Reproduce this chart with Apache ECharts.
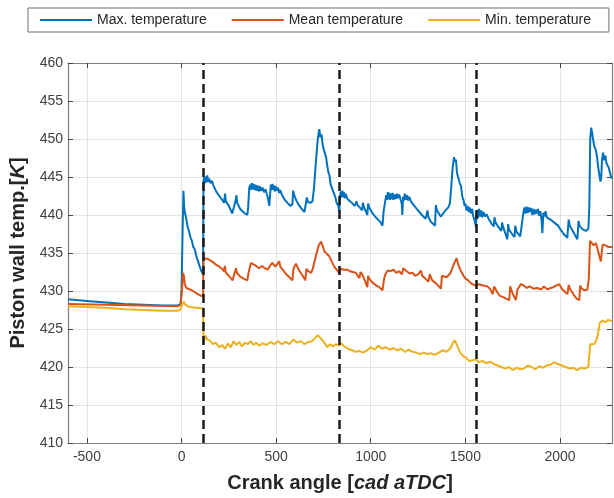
<!DOCTYPE html>
<html>
<head>
<meta charset="utf-8">
<script src="https://cdn.jsdelivr.net/npm/echarts@6/dist/echarts.min.js"></script>
<style>html,body{margin:0;padding:0;background:#fff}#c{width:614px;height:498px}</style>
</head>
<body>
<div id="c"></div>
<script>
// ---------- data ----------
const seriesNames = ['Max. temperature', 'Mean temperature', 'Min. temperature'];
const xTicks = [-500, 0, 500, 1000, 1500, 2000];
const cycleLines = [116, 836, 1556];

const maxX = [-600,-500,-400,-300,-200,-100,-20,-5,0,5,10,14,18,25,32,40,48,55,62,70,78,86,95,105,114,
116,120,124,128,132,136,140,146,152,160,170,185,200,215,225,230,234,250,268,272,285,290,294,310,330,348,
352,358,364,368,372,376,380,384,390,396,402,408,414,420,428,436,444,450,456,464,468,472,476,480,484,488,
492,498,504,510,516,522,528,533,545,560,575,586,590,596,605,620,635,650,656,662,668,680,692,700,710,720,
728,734,740,746,752,758,764,770,776,782,788,794,800,806,812,820,828,834,838,842,846,850,854,858,862,868,
875,885,900,915,921,925,930,945,955,958,965,982,986,992,1010,1030,1050,1062,1068,1077,1082,1086,1090,1094,
1098,1102,1106,1110,1115,1120,1126,1132,1138,1144,1150,1158,1164,1167,1171,1175,1180,1186,1192,1198,1204,
1212,1230,1250,1270,1290,1300,1304,1318,1340,1344,1350,1370,1380,1395,1410,1418,1425,1432,1440,1446,1450,
1456,1464,1470,1477,1484,1490,1496,1500,1506,1512,1518,1524,1530,1536,1542,1548,1556,1560,1566,1572,1578,
1584,1590,1596,1604,1612,1625,1640,1650,1654,1660,1675,1690,1694,1700,1715,1722,1726,1732,1750,1760,1764,
1770,1790,1800,1806,1812,1818,1824,1830,1836,1842,1848,1854,1860,1866,1872,1878,1884,1890,1896,1902,1907,
1912,1918,1924,1930,1940,1950,1960,1970,1979,1990,2005,2020,2039,2046,2052,2070,2085,2092,2098,2105,2120,
2137,2150,2155,2160,2165,2170,2176,2182,2190,2196,2202,2208,2214,2218,2222,2228,2234,2240,2246,2252,2258,
2264,2270,2275];
const maxY = [428.9,428.7,428.5,428.3,428.2,428.1,428.1,428.3,430,437,443.2,441,440.3,439.5,438.5,437.8,437,436.6,435.8,435.5,434.6,434,433.3,432.6,432.2,
444.5,445.0,444.2,445.1,444.3,445.2,444.4,444.8,444.2,444.5,443.8,443.0,442.5,442.0,441.6,442.8,441.8,441.2,440.2,440.6,441.8,442.6,441.6,440.8,440.3,440.0,
441,443.6,444.0,443.3,444.2,443.4,444.1,443.3,444.0,443.2,443.9,443.1,443.8,443.2,443.6,443.0,443.4,442.8,442.3,441.2,442.6,444.0,443.3,444.1,443.3,443.9,
443.1,443.8,443.2,443.6,442.9,443.3,442.8,442.6,442.0,441.6,441.2,441.4,443.2,442.6,442.0,441.3,440.8,440.4,440.6,442.3,441.7,441.6,441.8,443.5,447,450,
451.3,450.2,450.6,449.2,448.6,448.8,447.6,446.5,445.6,445.2,444.0,443.6,443.2,442.8,442.4,441.6,441.2,440.5,442.6,443.1,442.3,443.2,442.4,443.0,442.2,442.8,
442.2,441.9,441.6,441.2,441.0,441.8,441.3,440.9,440.6,441.6,441.0,440.0,441.5,441.0,440.2,439.6,439.1,438.6,440.5,441.9,442.6,442.0,443.0,442.1,
442.9,442.0,442.8,442.1,442.9,442.0,442.7,442.1,442.8,442.2,442.7,442.0,441.5,440.0,442.4,441.9,442.8,442.0,442.6,441.9,442.4,
441.8,441.2,440.6,440.0,439.5,440.6,439.8,439.1,438.6,441.3,440.6,439.8,440.0,440.6,441.0,441.5,443.5,446,447.6,447.0,447.3,
445.5,444.8,444.2,443.8,442.4,442.0,441.2,441.5,440.6,441.2,440.4,441.0,440.2,440.8,439.8,439.4,438.4,440.5,439.6,440.8,439.8,
440.6,439.7,440.4,439.8,440.1,439.4,438.8,438.5,439.7,439.0,438.4,437.9,439.0,438.4,437.3,436.8,438.8,438.0,437.4,437.1,438.6,
437.8,437.2,437.0,440.2,441.0,440.2,441.1,440.3,441.0,440.4,440.9,440.0,440.8,440.1,440.7,440.2,440.8,439.9,440.5,439.6,437.6,
440.3,439.8,440.5,439.7,439.8,439.4,439.6,439.0,439.2,438.6,438.0,437.5,437.0,439.4,438.6,437.8,437.1,436.8,439.2,438.5,438.1,
437.9,438.2,441,450,451.5,450.8,449.8,449.0,448.5,447.6,446.3,445.3,444.4,444.8,447.2,448.2,447.2,447.8,446.8,447.0,446.2,
445.6,445.0,444.8];

const meanX = [-600,-400,-200,-20,-5,2,8,12,18,25,35,45,60,80,100,114,116,125,140,160,180,200,215,225,229,234,250,270,276,288,292,310,330,348,354,
367,380,395,410,425,440,455,464,470,480,495,505,516,524,535,550,570,586,592,605,615,630,645,654,660,670,685,692,700,712,725,737,745,755,765,780,
795,810,820,834,840,850,860,875,890,905,921,930,940,946,955,970,982,986,992,1010,1030,1045,1062,1070,1077,1090,1105,1120,1135,1150,1165,1172,
1190,1205,1220,1235,1250,1265,1272,1290,1305,1312,1325,1345,1360,1371,1376,1389,1400,1420,1440,1454,1462,1475,1490,1503,1515,1530,1545,1556,
1570,1585,1600,1617,1630,1645,1652,1665,1680,1700,1715,1732,1737,1745,1755,1767,1775,1794,1810,1825,1840,1860,1880,1900,1915,1935,1950,1965,
1980,1996,2010,2025,2040,2046,2055,2070,2088,2102,2107,2115,2128,2145,2152,2159,2168,2178,2190,2200,2208,2216,2225,2240,2255,2275];
const meanY = [428.3,428.2,428.1,428.0,428.2,430,432.4,432.0,430.8,430.4,430.6,430.2,430.0,429.7,429.4,429.3,434.3,434.4,434.2,433.9,433.5,433.2,432.9,432.6,433.3,432.4,432.0,431.4,432.0,433.0,432.4,431.9,431.6,431.4,432.4,
433.7,433.5,433.3,433.0,433.3,433.0,432.8,432.7,433.4,433.7,433.2,433.5,433.9,433.1,432.8,432.3,431.8,431.4,433.0,433.6,433.0,432.4,431.8,431.4,432.9,432.6,432.4,432.8,433.6,434.8,436.0,436.5,436.0,435.2,435.0,434.6,
433.8,433.1,432.8,432.3,432.9,432.9,432.8,432.8,432.6,432.5,432.4,432.2,431.7,432.5,432.2,431.3,430.5,432.0,431.6,431.1,430.7,430.5,430.1,431.5,432.2,432.7,432.6,432.8,432.4,432.6,432.2,433.0,
432.6,432.3,432.4,432.0,432.2,432.7,432.0,431.6,431.2,432.2,431.4,431.0,430.6,430.3,432.0,431.9,431.8,432.3,433.6,434.3,433.5,432.7,432.0,431.6,431.4,431.0,430.8,430.7,
430.9,430.8,430.7,430.6,430.3,429.6,430.6,430.0,429.4,429.2,429.0,428.8,430.6,430.0,429.4,428.8,430.2,430.9,430.7,430.4,430.6,430.3,430.4,430.2,430.6,430.2,430.4,430.5,
430.7,430.9,430.3,429.9,429.6,430.8,430.2,429.6,429.0,428.8,430.7,430.3,430.1,430.2,431.5,436.6,436.4,436.0,436.3,435.4,434.6,433.9,436.1,436.0,435.8,435.8];

const minX = [-600,-500,-400,-300,-200,-100,-20,-5,5,12,20,40,80,114,116,125,135,150,165,180,200,215,230,245,260,275,290,305,320,335,350,365,380,395,
410,430,450,470,490,510,530,550,570,590,610,630,650,670,690,705,720,735,745,760,770,785,800,815,830,845,860,880,900,920,940,960,980,1000,1020,
1040,1060,1080,1100,1120,1140,1160,1180,1200,1220,1240,1260,1280,1300,1320,1340,1360,1380,1400,1420,1435,1445,1460,1475,1490,1505,1520,1540,
1556,1570,1590,1610,1630,1650,1670,1690,1710,1730,1750,1770,1790,1810,1830,1850,1870,1890,1910,1930,1950,1970,1990,2010,2030,2050,2070,2090,
2110,2130,2150,2160,2170,2180,2190,2200,2210,2225,2240,2255,2275];
const minY = [428.0,427.9,427.8,427.6,427.5,427.4,427.4,427.6,428.3,428.6,428.2,427.9,427.8,427.7,423.0,424.2,423.6,423.5,423.0,423.2,422.6,422.9,422.4,423.1,422.6,423.4,422.9,423.3,422.7,423.2,423.0,423.4,422.9,423.2,
422.8,423.1,422.9,423.3,423.0,423.4,423.0,423.3,423.0,423.6,423.2,423.4,423.0,423.3,423.4,423.8,424.2,423.8,423.5,423.0,422.6,423.0,422.7,423.0,422.8,423.1,422.7,422.4,422.2,422.0,422.1,421.9,422.2,422.6,422.3,
422.8,422.4,422.6,422.3,422.5,422.2,422.4,422.0,422.3,422.0,421.9,421.7,421.9,421.7,421.8,421.6,421.9,422.2,422.0,422.4,423.2,423.5,422.6,421.8,421.4,421.2,420.8,420.9,
421.0,420.6,420.8,420.5,420.7,420.4,420.2,420.0,419.8,420.0,419.6,419.9,419.7,419.8,420.2,420.0,419.7,420.1,419.9,420.2,420.3,420.6,420.4,420.2,420.0,419.8,419.9,419.6,
419.9,419.8,420.0,423.0,423.2,423.0,423.4,424.2,425.8,426.1,425.9,426.2,426.0];

// ---------- chart ----------
const pair = (xs, ys) => xs.map((x, i) => [x, ys[i]]);
const colors = ['#0072BD', '#D95319', '#EDB120'];
const FONT = '"Liberation Sans", Arial, Helvetica, sans-serif';
const X_MIN = -600, X_MAX = 2275;
const TITLE_SIZE = 20;
const TICK_SIZE = 14;

const chart = echarts.init(document.getElementById('c'), null, {renderer: 'canvas'});
const axisLineStyle = {color: '#7f7f7f', width: 1.2};
const option = {
  animation: false,
  textStyle: {fontFamily: FONT},
  grid: {left: 68, right: 2, top: 63, bottom: 51, containLabel: false},
  legend: {
    data: seriesNames, left: 28, top: 8, icon: 'rect', itemWidth: 52, itemHeight: 2,
    itemGap: 25, borderColor: '#6e6e6e', borderWidth: 1, padding: [5, 18, 5, 12],
    textStyle: {fontSize: 14, color: '#262626', fontFamily: FONT}
  },
  xAxis: [{
    type: 'value', min: X_MIN, max: X_MAX,
    name: 'Crank angle [{i|cad aTDC}]', nameLocation: 'middle', nameGap: 30,
    nameTextStyle: {fontSize: TITLE_SIZE, fontWeight: 'bold', color: '#262626', fontFamily: FONT,
      rich: {i: {fontSize: TITLE_SIZE, fontWeight: 'bold', fontStyle: 'italic', color: '#262626', fontFamily: FONT}}},
    axisLine: {show: true, lineStyle: axisLineStyle, onZero: false},
    axisTick: {show: true, inside: true, length: 5, customValues: xTicks, lineStyle: {color: '#444'}},
    axisLabel: {customValues: xTicks, fontSize: TICK_SIZE, color: '#404040', margin: 7, fontFamily: FONT,
      formatter: v => String(v)},
    splitLine: {show: true, lineStyle: {color: '#e3e3e3', width: 1}}
  }, {
    type: 'value', min: X_MIN, max: X_MAX, position: 'top',
    axisLine: {show: true, lineStyle: axisLineStyle, onZero: false},
    axisTick: {show: true, inside: true, length: 5, customValues: xTicks, lineStyle: {color: '#444'}},
    axisLabel: {show: false}, splitLine: {show: false}
  }],
  yAxis: [{
    type: 'value', min: 410, max: 460, interval: 5,
    name: 'Piston wall temp.[{i|K}]', nameLocation: 'middle', nameGap: 32, nameRotate: 90,
    nameTextStyle: {fontSize: TITLE_SIZE, fontWeight: 'bold', color: '#262626', fontFamily: FONT,
      rich: {i: {fontSize: TITLE_SIZE, fontWeight: 'bold', fontStyle: 'italic', color: '#262626', fontFamily: FONT}}},
    axisLine: {show: true, lineStyle: axisLineStyle, onZero: false},
    axisTick: {show: true, inside: true, length: 5, lineStyle: {color: '#444'}},
    axisLabel: {fontSize: TICK_SIZE, color: '#404040', margin: 5, fontFamily: FONT},
    splitLine: {show: true, lineStyle: {color: '#e3e3e3', width: 1}}
  }, {
    type: 'value', min: 410, max: 460, interval: 5, position: 'right',
    axisLine: {show: true, lineStyle: axisLineStyle, onZero: false},
    axisTick: {show: true, inside: true, length: 5, lineStyle: {color: '#444'}},
    axisLabel: {show: false}, splitLine: {show: false}
  }],
  series: [
    {name: seriesNames[0], type: 'line', data: pair(maxX, maxY), showSymbol: false, color: colors[0],
     lineStyle: {width: 2, color: colors[0]}, z: 3},
    {name: seriesNames[1], type: 'line', data: pair(meanX, meanY), showSymbol: false, color: colors[1],
     lineStyle: {width: 2, color: colors[1]}, z: 3},
    {name: seriesNames[2], type: 'line', data: pair(minX, minY), showSymbol: false, color: colors[2],
     lineStyle: {width: 2, color: colors[2]}, z: 3},
    {name: 'cycles', type: 'line', data: [], z: 4,
     markLine: {silent: true, symbol: ['none', 'none'], label: {show: false}, animation: false,
       lineStyle: {color: '#1a1a1a', type: [9, 5], width: 2.5},
       data: cycleLines.map(v => ({xAxis: v}))}}
  ]
};
chart.setOption(option);
</script>
</body>
</html>
